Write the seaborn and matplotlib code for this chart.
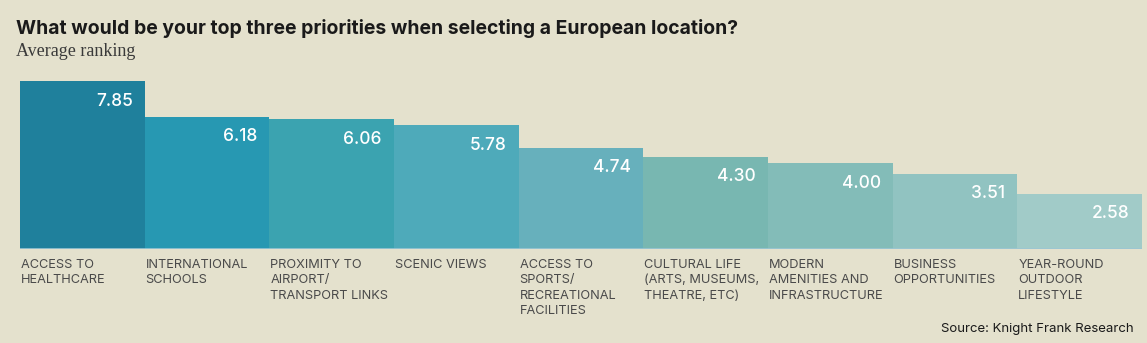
import matplotlib
matplotlib.use("Agg")
import matplotlib.pyplot as plt
import seaborn as sns
import pandas as pd

categories = [
    "ACCESS TO\nHEALTHCARE",
    "INTERNATIONAL\nSCHOOLS",
    "PROXIMITY TO\nAIRPORT/\nTRANSPORT LINKS",
    "SCENIC VIEWS",
    "ACCESS TO\nSPORTS/\nRECREATIONAL\nFACILITIES",
    "CULTURAL LIFE\n(ARTS, MUSEUMS,\nTHEATRE, ETC)",
    "MODERN\nAMENITIES AND\nINFRASTRUCTURE",
    "BUSINESS\nOPPORTUNITIES",
    "YEAR-ROUND\nOUTDOOR\nLIFESTYLE",
]
rankings = [7.85, 6.18, 6.06, 5.78, 4.74, 4.30, 4.00, 3.51, 2.58]
bar_colors = ["#1f809c", "#2798b2", "#3ba3b0", "#4eaaba", "#67b0bc",
              "#78b7b1", "#83bcb8", "#91c3c1", "#a1cbc8"]

bg = "#e4e1cd"
sns.set_theme(style="white")
plt.rcParams["font.family"] = ["Inter", "DejaVu Sans"]

df = pd.DataFrame({"category": categories, "ranking": rankings})

fig = plt.figure(figsize=(11.47, 3.43), dpi=100, facecolor=bg)
ax = fig.add_axes([20 / 1147, 94 / 343, 1122 / 1147, 168 / 343])
ax.set_facecolor(bg)

sns.barplot(data=df, x="category", y="ranking", hue="category",
            palette=bar_colors, width=1.0, linewidth=0, legend=False,
            ax=ax, saturation=1)

ax.set_xlim(-0.5, len(categories) - 0.5)
ax.set_ylim(0, max(rankings))
ax.axhline(0, color="#9cc6d4", lw=1.2, zorder=5)
for s in ax.spines.values():
    s.set_visible(False)
ax.set_xticks([])
ax.set_yticks([])
ax.set_xlabel("")
ax.set_ylabel("")

for i, (cat, val) in enumerate(zip(categories, rankings)):
    ax.annotate(f"{val:.2f}", xy=(i + 0.5, val), xycoords="data",
                xytext=(-12, -20), textcoords="offset pixels",
                ha="right", va="center", color="white",
                fontsize=12.5, fontweight="medium")
    ax.annotate(cat, xy=(i - 0.5, 0), xycoords="data",
                xytext=(1, -10), textcoords="offset pixels",
                ha="left", va="top", color="#4a4a4a",
                fontsize=9.2, linespacing=1.38)

fig.text(16 / 1147, 1 - 29 / 343, "What would be your top three priorities when selecting a European location?",
         fontsize=13.95, fontweight="bold", color="#1a1a1a", va="center", ha="left")
fig.text(16 / 1147, 1 - 52 / 343, "Average ranking", fontsize=13,
         family=["Liberation Serif", "DejaVu Serif"], color="#3a3a3a",
         va="center", ha="left")
fig.text(1134 / 1147, 1 - 329 / 343, "Source: Knight Frank Research",
         fontsize=9.5, color="#1a1a1a", va="center", ha="right")

fig.savefig("out.png", dpi=100, facecolor=bg)
